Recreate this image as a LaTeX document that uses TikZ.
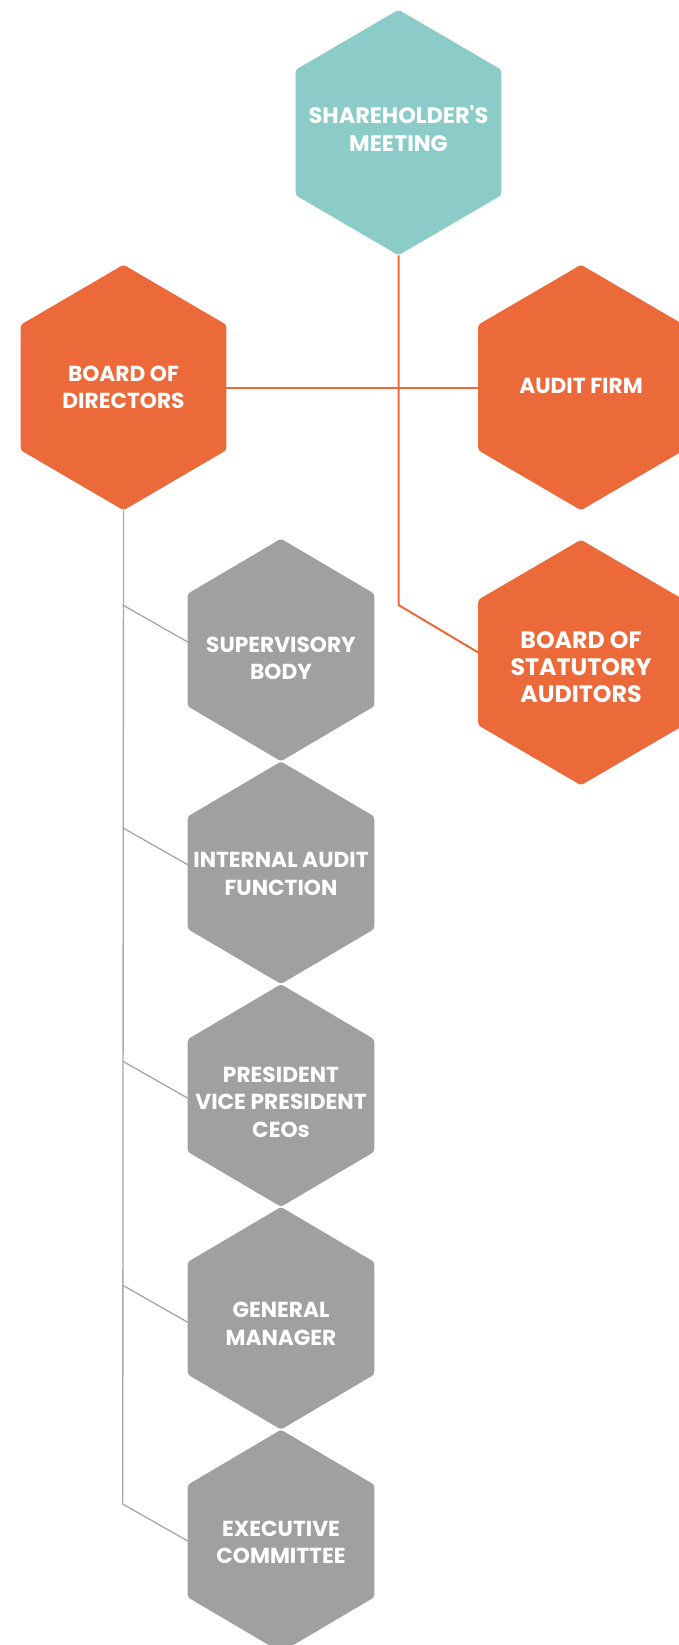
\documentclass[tikz,border=0pt]{standalone}
\usepackage{fontspec}
\setmainfont{Poppins}
\usetikzlibrary{backgrounds}

\definecolor{hexteal}{HTML}{8BCCC9}
\definecolor{hexorange}{HTML}{EC6A3A}
\definecolor{hexgray}{HTML}{A0A0A0}
\definecolor{linegray}{HTML}{A8A8A8}

\tikzset{
  hextext/.style={inner sep=0pt, text=white, align=center,
    font=\bfseries\fontsize{16.3}{20.5}\selectfont},
  bighex/.style={inner sep=0pt, minimum width=153.75pt, minimum height=93.75pt},
  smallhex/.style={inner sep=0pt, minimum width=139.5pt, minimum height=84pt},
  orangeline/.style={hexorange, line width=1.5pt},
  grayline/.style={linegray, line width=1pt}
}

\begin{document}
\begin{tikzpicture}[x=0.75pt, y=-0.75pt]
\useasboundingbox (0,0) rectangle (678,1645);

% governing bodies
\node [bighex, label={[hextext, yshift=3pt, font=\bfseries\fontsize{16.8}{20.5}\selectfont]center:{SHAREHOLDER\textquotesingle S\\MEETING}}] (sh) at (398.5,132.5) {};
\node [bighex, label={[hextext]center:{BOARD OF\\DIRECTORS}}] (bod) at (123.5,387.5) {};
\node [bighex, label={[hextext, yshift=1.5pt]center:{AUDIT FIRM}}] (aud) at (581,387.5) {};
\node [bighex, label={[hextext, yshift=-3.5pt, font=\bfseries\fontsize{17.8}{20}\selectfont]center:{BOARD OF\\STATUTORY\\AUDITORS}}] (sta) at (581,662.5) {};

% management column
\node [smallhex, label={[hextext, yshift=-6.3pt]center:{SUPERVISORY\\BODY}}] (sup) at (281,650) {};
\node [smallhex, label={[hextext, yshift=-1pt]center:{INTERNAL AUDIT\\FUNCTION}}] (int) at (281,872.75) {};
\node [smallhex, label={[hextext, yshift=-4.9pt]center:{PRESIDENT\\VICE PRESIDENT\\CEOs}}] (pre) at (281,1095.5) {};
\node [smallhex, label={[hextext, yshift=-4.3pt]center:{GENERAL\\MANAGER}}] (gen) at (281,1318.25) {};
\node [smallhex, label={[hextext, yshift=-1pt]center:{EXECUTIVE\\COMMITTEE}}] (exe) at (281,1541) {};

\begin{scope}[on background layer]
\foreach \n/\c/\t in {sh/hexteal/45pt, bod/hexorange/45pt, aud/hexorange/45pt,
    sta/hexorange/45pt, sup/hexgray/41.25pt, int/hexgray/41.25pt,
    pre/hexgray/41.25pt, gen/hexgray/41.25pt, exe/hexgray/41.25pt}
  \fill [\c, rounded corners=2pt] (\n.north west) -- ([yshift=\t]\n.north)
    -- (\n.north east) -- (\n.south east) -- ([yshift=-\t]\n.south)
    -- (\n.south west) -- cycle;
\end{scope}

\coordinate (sh-bot)  at ([yshift=-45pt]sh.south);
\coordinate (bod-bot) at ([yshift=-45pt]bod.south);
\coordinate (sta-in)  at ([yshift=7.5pt]sta.west);
\coordinate (bend)    at (398.5,605);

\draw [orangeline] (bod.east) -- (aud.west);
\draw [orangeline] (sh-bot) -- (bend) -- (sta-in);

\foreach \n/\d in {sup/6pt, int/6pt, pre/-2pt, gen/-3pt, exe/0pt}
  \draw [grayline] ([yshift=\d]\n.west) -- ++(-65,-37) coordinate (j-\n);
\draw [grayline] (bod-bot) -- (j-exe);
\end{tikzpicture}
\end{document}
